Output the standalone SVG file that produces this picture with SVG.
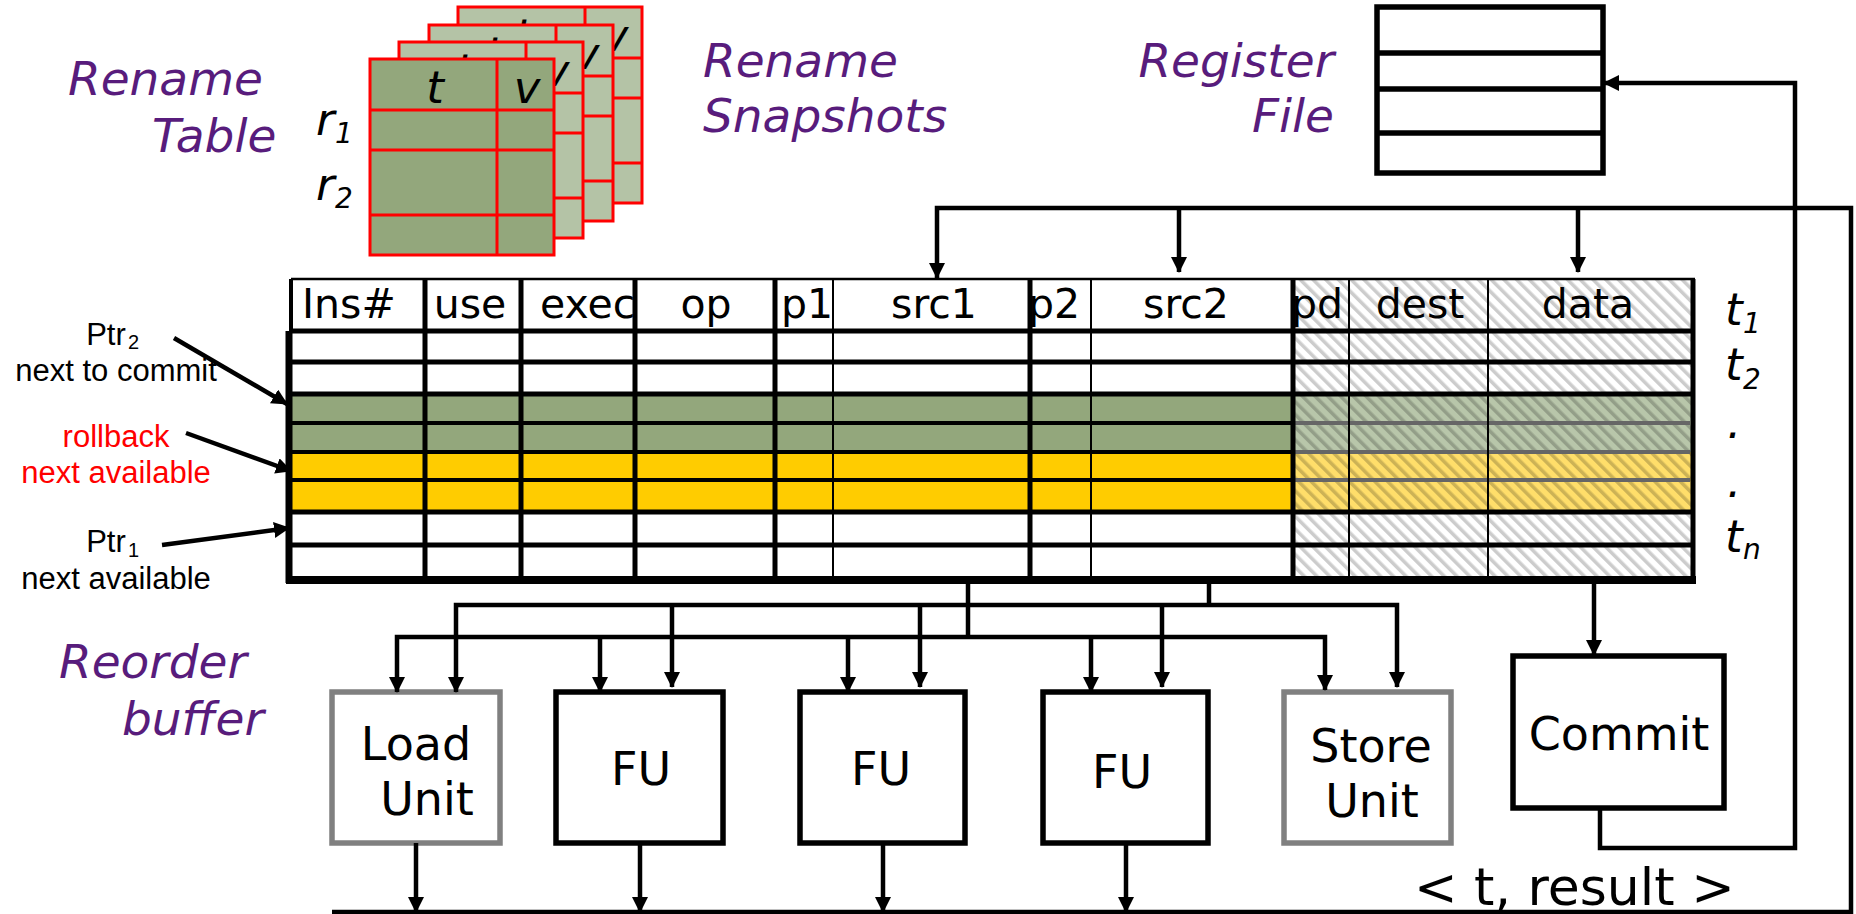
<svg xmlns="http://www.w3.org/2000/svg" xmlns:xlink="http://www.w3.org/1999/xlink" width="1856" height="914" viewBox="0 0 1856 914">
<style>
.pl{font-family:"DejaVu Sans",sans-serif;font-style:italic;font-size:47px;fill:#581C7C}
.hd{font-family:"DejaVu Sans",sans-serif;font-size:41px;fill:#000}
.bx{font-family:"DejaVu Sans",sans-serif;font-size:46px;fill:#000;text-anchor:middle}
.it{font-family:"DejaVu Sans",sans-serif;font-style:italic;font-size:45px;fill:#000}
.sub{font-family:"DejaVu Sans",sans-serif;font-style:italic;font-size:28px;fill:#000}
.ar{font-family:"Liberation Sans",Arial,sans-serif;font-size:31px;text-anchor:middle}
.arsub{font-family:"Liberation Sans",Arial,sans-serif;font-size:20px}
.ln{fill:none;stroke:#000;stroke-width:4.5}
.arw{fill:none;stroke:#000;stroke-width:4.5;marker-end:url(#ah)}
.unit{fill:#fff;stroke:#000;stroke-width:5.5}
.gunit{fill:#fff;stroke:#808080;stroke-width:5.5}
</style>
<defs>
<marker id="ah" markerUnits="userSpaceOnUse" markerWidth="16" markerHeight="16" viewBox="0 0 16 16" refX="15" refY="8" orient="auto-start-reverse"><path d="M0,0 L16,8 L0,16 z" fill="#000"/></marker>
<pattern id="hatch" patternUnits="userSpaceOnUse" width="9" height="9" patternTransform="rotate(-45)"><rect x="0" y="0" width="3.5" height="9" fill="#000" fill-opacity="0.2"/></pattern>
<clipPath id="execClip"><rect x="523" y="281" width="110" height="48"/></clipPath>
<g id="rt">
<rect x="0" y="0" width="184" height="196" stroke="#f00" stroke-width="3"/>
<path d="M127,0 V196 M0,51 H184 M0,91 H184 M0,156 H184" stroke="#f00" stroke-width="3" fill="none"/>
<text x="65" y="44" class="it" text-anchor="middle">t</text>
<text x="157" y="44" class="it" text-anchor="middle">v</text>
</g>
</defs>
<rect width="1856" height="914" fill="#fff"/>

<g id="rename-snapshots">
<use href="#rt" x="458" y="7" fill="#B4C3A6"/>
<use href="#rt" x="429" y="25" fill="#B4C3A6"/>
<use href="#rt" x="399" y="42" fill="#B4C3A6"/>
<text class="pl" x="703" y="77">Rename</text>
<text class="pl" x="703" y="132">Snapshots</text>
</g>

<g id="rename-table">
<use href="#rt" x="370" y="59" fill="#93A77C"/>
<text class="pl" x="68" y="95">Rename</text>
<text class="pl" x="152" y="152">Table</text>
<text class="it" x="316" y="135">r</text><text class="sub" x="335" y="143">1</text>
<text class="it" x="316" y="200">r</text><text class="sub" x="335" y="208">2</text>
</g>

<g id="register-file">
<rect x="1377" y="7" width="226" height="166" fill="#fff" stroke="#000" stroke-width="5.5"/>
<path d="M1377,53 H1603 M1377,89 H1603 M1377,133 H1603" stroke="#000" stroke-width="5.5"/>
<text class="pl" x="1334" y="77" text-anchor="end">Register</text>
<text class="pl" x="1334" y="132" text-anchor="end">File</text>
</g>

<g id="reorder-buffer">
<rect x="291" y="279" width="1402" height="301" fill="#fff"/>
<rect x="291" y="394" width="1002" height="58" fill="#93A77C"/>
<rect x="291" y="452" width="1002" height="60" fill="#FFCC00"/>
<rect x="1293" y="394" width="399" height="58" fill="#B8C6AA"/>
<rect x="1293" y="452" width="399" height="60" fill="#FFDE6A"/>
<rect x="1293" y="279" width="400" height="301" fill="url(#hatch)"/>
<text class="hd" x="302" y="318">Ins#</text>
<text class="hd" x="470" y="318" text-anchor="middle">use</text>
<text class="hd" x="540" y="318" clip-path="url(#execClip)">exec</text>
<text class="hd" x="706" y="318" text-anchor="middle">op</text>
<text class="hd" x="781" y="318">p1</text>
<text class="hd" x="934" y="318" text-anchor="middle">src1</text>
<text class="hd" x="1028" y="318">p2</text>
<text class="hd" x="1186" y="318" text-anchor="middle">src2</text>
<text class="hd" x="1291" y="318">pd</text>
<text class="hd" x="1420" y="318" text-anchor="middle">dest</text>
<text class="hd" x="1588" y="318" text-anchor="middle">data</text>
<path d="M289,331 H1694 M289,362 H1692 M289,394 H1692 M289,512 H1692 M289,545 H1692" stroke="#000" stroke-width="5"/>
<path d="M289,423 H1293 M289,452 H1293 M289,480 H1293" stroke="#000" stroke-width="4"/>
<path d="M1293,423 H1690 M1293,452 H1690 M1293,480 H1690" stroke="#666" stroke-width="4"/>
<path d="M425,279 V580 M521,279 V580 M635,279 V580 M775,279 V580 M1030,279 V580 M1293,279 V580" stroke="#000" stroke-width="5"/>
<path d="M833,279 V580 M1091,279 V580 M1349,279 V580 M1488,279 V580" stroke="#000" stroke-width="2"/>
<path d="M291,279 H1695" stroke="#000" stroke-width="2.5"/>
<path d="M291,279 V331" stroke="#000" stroke-width="4"/>
<path d="M289,331 V583" stroke="#000" stroke-width="7"/>
<path d="M286,580 H1696" stroke="#000" stroke-width="8"/>
<path d="M1693,279 V584" stroke="#000" stroke-width="5"/>
<text class="it" x="1725" y="325">t</text><text class="sub" x="1743" y="333">1</text>
<text class="it" x="1725" y="380">t</text><text class="sub" x="1743" y="389">2</text>
<text class="it" x="1727" y="438">.</text>
<text class="it" x="1727" y="497">.</text>
<text class="it" x="1725" y="552">t</text><text class="sub" x="1743" y="559">n</text>
<text class="pl" x="59" y="678">Reorder</text>
<text class="pl" x="122" y="735">buffer</text>
</g>

<g id="pointers">
<text class="ar" x="106" y="345">Ptr</text><text class="arsub" x="128" y="349">2</text>
<text class="ar" x="116" y="381">next to commit</text>
<text class="ar" x="116" y="447" fill="#f00">rollback</text>
<text class="ar" x="116" y="483" fill="#f00">next available</text>
<text class="ar" x="106" y="552">Ptr</text><text class="arsub" x="128" y="557">1</text>
<text class="ar" x="116" y="589">next available</text>
</g>

<g id="load-unit">
<rect class="gunit" x="332" y="692" width="168" height="151"/>
<text class="bx" x="416" y="760">Load</text>
<text class="bx" x="427" y="815">Unit</text>
</g>
<g id="fu1">
<rect class="unit" x="556" y="692" width="167" height="151"/>
<text class="bx" x="641" y="785">FU</text>
</g>
<g id="fu2">
<rect class="unit" x="800" y="692" width="165" height="151"/>
<text class="bx" x="881" y="785">FU</text>
</g>
<g id="fu3">
<rect class="unit" x="1043" y="692" width="165" height="151"/>
<text class="bx" x="1122" y="788">FU</text>
</g>
<g id="store-unit">
<rect class="gunit" x="1284" y="692" width="167" height="151"/>
<text class="bx" x="1371" y="762">Store</text>
<text class="bx" x="1372" y="817">Unit</text>
</g>
<g id="commit">
<rect class="unit" x="1513" y="656" width="211" height="152"/>
<text class="bx" x="1619" y="750">Commit</text>
</g>

<g id="connectors">
<path class="ln" d="M937,278 V208 H1851 V912 H332" marker-start="url(#ah)"/>
<path class="arw" d="M1179,208 V272"/>
<path class="arw" d="M1578,208 V272"/>
<path class="arw" d="M1594,583 V655"/>
<path class="arw" d="M1600,808 V848 H1795 V83 H1604"/>
<path class="ln" d="M968,583 V637"/>
<path class="ln" d="M1209,583 V605"/>
<path class="arw" d="M456,692 V605 H1397 V687" marker-start="url(#ah)"/>
<path class="arw" d="M672,605 V687"/>
<path class="arw" d="M920,605 V687"/>
<path class="arw" d="M1162,605 V687"/>
<path class="arw" d="M397,692 V637 H1325 V690" marker-start="url(#ah)"/>
<path class="arw" d="M600,637 V692"/>
<path class="arw" d="M848,637 V692"/>
<path class="arw" d="M1091,637 V692"/>
<path class="arw" d="M416,843 V912"/>
<path class="arw" d="M640,843 V912"/>
<path class="arw" d="M883,843 V912"/>
<path class="arw" d="M1126,843 V912"/>
<path class="arw" d="M174,338 L287,404"/>
<path class="arw" d="M186,433 L291,471"/>
<path class="arw" d="M162,545 L289,528"/>
</g>

<text x="1414" y="905" font-family="DejaVu Sans, sans-serif" font-size="52" fill="#000">&lt; t, result &gt;</text>
</svg>
